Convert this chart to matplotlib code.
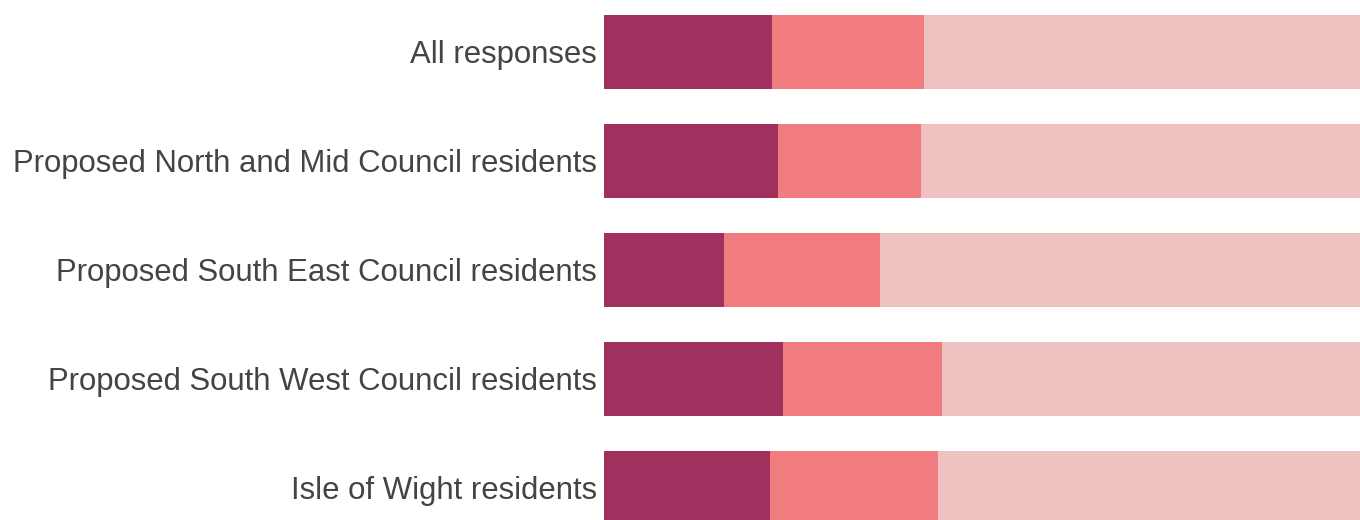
import matplotlib.pyplot as plt
import numpy as np

plt.rcParams['font.family'] = ['Liberation Sans', 'DejaVu Sans']

groups = ['All responses',
          'Proposed North and Mid Council residents',
          'Proposed South East Council residents',
          'Proposed South West Council residents',
          'Isle of Wight residents']
first = [22.2, 23.0, 15.9, 23.7, 22.0]
second = [20.1, 18.9, 20.6, 21.0, 22.2]
third = [57.7, 58.1, 63.5, 55.3, 55.8]
colours = ['#A0305E', '#F07C80', '#EFC1C1']

fig = plt.figure(figsize=(13.6, 5.2), dpi=100)
ax = fig.add_axes([604 / 1360, 0, 1 - 604 / 1360, 1])

y = np.arange(len(groups))
left = np.zeros(len(groups))
for vals, c in zip([first, second, third], colours):
    ax.barh(y, vals, left=left, height=0.68, color=c, linewidth=0)
    left += np.array(vals)

ax.set_xlim(0, 100)
ax.set_ylim(4.294, -0.477)
ax.set_yticks(y)
ax.set_yticklabels(groups, fontsize=22.4, color='#444444')
ax.tick_params(axis='y', length=0, pad=5)
ax.set_xticks([])
for s in ax.spines.values():
    s.set_visible(False)

fig.savefig('out.png', dpi=100)
